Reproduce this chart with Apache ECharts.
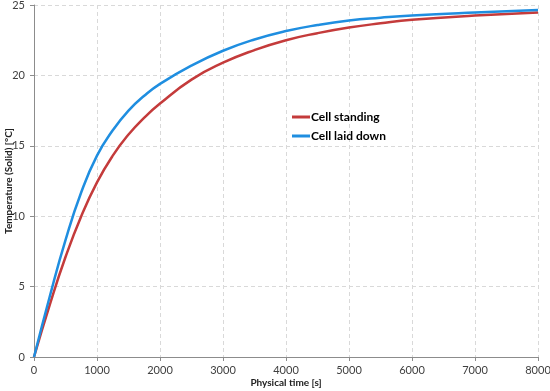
<!DOCTYPE html>
<html>
<head>
<meta charset="utf-8">
<script src="https://cdn.jsdelivr.net/npm/echarts@6/dist/echarts.min.js"></script>
<style>html,body{margin:0;padding:0;background:#fff}#c{width:550px;height:391px}</style>
</head>
<body>
<div id="c"></div>
<script>
const times = [0, 250, 500, 750, 1000, 1250, 1500, 1750, 2000, 2500, 3000, 3500, 4000, 4500, 5000, 5500, 6000, 7000, 8000];
const cellStanding = [0, 3.7, 7.1, 10.0, 12.4, 14.3, 15.8, 17.0, 18.0, 19.7, 20.9, 21.8, 22.5, 23.0, 23.4, 23.7, 23.95, 24.25, 24.47];
const cellLaidDown = [0, 4.3, 8.3, 11.7, 14.3, 16.1, 17.5, 18.55, 19.4, 20.7, 21.75, 22.55, 23.15, 23.58, 23.9, 24.1, 24.26, 24.47, 24.64];
const seriesNames = ['Cell standing', 'Cell laid down'];
const xName = 'Physical time [s]';
const yName = 'Temperature (Solid) [°C]';

const font = 'Lato, "Open Sans", sans-serif';
const chart = echarts.init(document.getElementById('c'));
const pair = (arr) => times.map((t, i) => [t, arr[i]]);
chart.setOption({
  animation: false,
  backgroundColor: '#fff',
  grid: { left: 34, right: 12, top: 5, bottom: 34, containLabel: false, outerBoundsMode: 'none' },
  legend: {
    left: 292, top: 111, orient: 'vertical', itemGap: 7, padding: 0,
    itemWidth: 18, itemHeight: 3, icon: 'rect',
    textStyle: { fontFamily: font, fontWeight: 'bold', fontSize: 12, color: '#000', padding: [0,0,0,-4] },
    data: seriesNames
  },
  xAxis: {
    type: 'value', min: 0, max: 8000, interval: 1000,
    name: xName, nameLocation: 'middle', nameGap: 21, nameMoveOverlap: false,
    nameTextStyle: { fontFamily: font, fontWeight: 'bold', fontSize: 10, color: '#222' },
    axisLine: { lineStyle: { color: '#8c8c8c', width: 1 } },
    axisTick: { show: true, length: 4, lineStyle: { color: '#8c8c8c' } },
    axisLabel: { fontFamily: font, fontSize: 11, color: '#404040', margin: 8, formatter: (v) => String(v) },
    splitLine: { show: true, lineStyle: { color: '#d9d9d9', type: [4, 3] } }
  },
  yAxis: {
    type: 'value', min: 0, max: 25, interval: 5,
    name: yName, nameLocation: 'middle', nameGap: 20, nameRotate: 90, nameMoveOverlap: false,
    nameTextStyle: { fontFamily: font, fontWeight: 'bold', fontSize: 10, color: '#222' },
    axisLine: { show: true, lineStyle: { color: '#8c8c8c', width: 1 } },
    axisTick: { show: true, length: 4, lineStyle: { color: '#8c8c8c' } },
    axisLabel: { fontFamily: font, fontSize: 11, color: '#404040', margin: 9 },
    splitLine: { show: true, lineStyle: { color: '#d9d9d9', type: [4, 3] } }
  },
  series: [
    { name: seriesNames[0], type: 'line', smooth: 0.5, showSymbol: false, data: pair(cellStanding),
      lineStyle: { color: '#c43b3b', width: 2.5 }, itemStyle: { color: '#c43b3b' } },
    { name: seriesNames[1], type: 'line', smooth: 0.5, showSymbol: false, data: pair(cellLaidDown),
      lineStyle: { color: '#1f8ee0', width: 2.5 }, itemStyle: { color: '#1f8ee0' } }
  ]
});
</script>
</body>
</html>
